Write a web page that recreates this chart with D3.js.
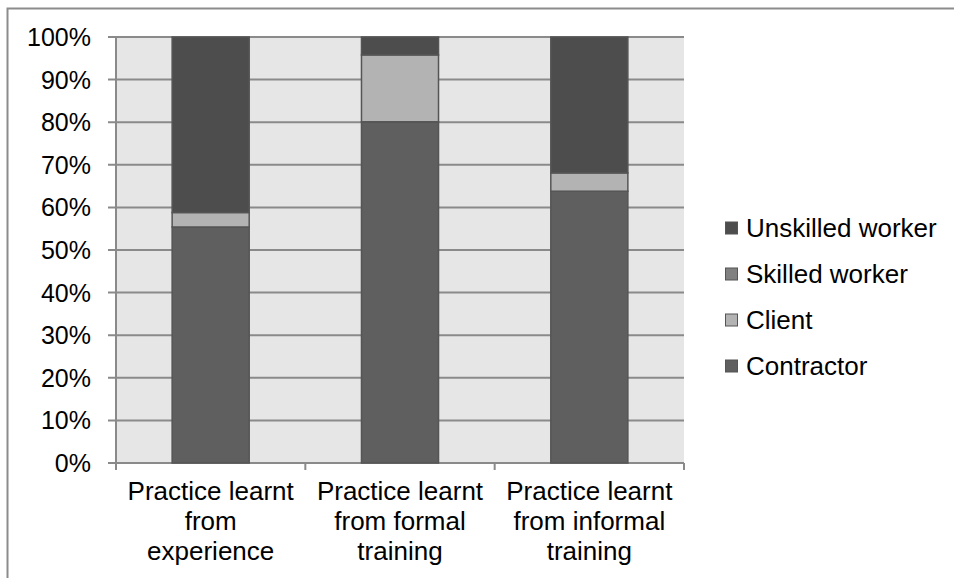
<!DOCTYPE html>
<meta charset="utf-8">
<head>
<style>
body { margin: 0; background: #fff; }
svg { font-family: "Liberation Sans", Arial, sans-serif; }
.grid line { stroke: #8a8a8a; stroke-width: 2; }
.tick-label { font-size: 25px; fill: #000; }
.cat-label { font-size: 26px; fill: #000; }
.legend text { font-size: 26px; fill: #000; }
</style>
</head>
<body>
<svg width="954" height="578"></svg>
<script src="https://d3js.org/d3.v7.min.js"></script>
<script>

// data (percent of respondents)
var categories = ["experience", "formal", "informal"];
var categoryLines = [
  ["Practice learnt", "from", "experience"],
  ["Practice learnt", "from formal", "training"],
  ["Practice learnt", "from informal", "training"]
];
var contractor = [55.4, 80.1, 63.8];
var client = [3.4, 15.7, 4.3];
var skilled = [0, 0, 0];
var unskilled = [41.2, 4.2, 31.9];

var seriesNames = ["Contractor", "Client", "Skilled worker", "Unskilled worker"];
var seriesColors = ["#5f5f5f", "#b3b3b3", "#808080", "#4d4d4d"];
var yTicks = [0, 10, 20, 30, 40, 50, 60, 70, 80, 90, 100];

var rows = categories.map(function(c, i) {
  return { cat: c, "Contractor": contractor[i], "Client": client[i],
           "Skilled worker": skilled[i], "Unskilled worker": unskilled[i] };
});

var svg = d3.select("svg"),
    plotLeft = 116, plotRight = 684, plotTop = 37, plotBottom = 463;

// outer chart frame
svg.append("rect")
    .attr("x", 7.5).attr("y", 8.5)
    .attr("width", 1000).attr("height", 700)
    .attr("fill", "#fff")
    .attr("stroke", "#8c8c8c")
    .attr("stroke-width", 2);

var x = d3.scaleBand()
    .domain(categories)
    .range([plotLeft, plotRight])
    .paddingInner(0.593)
    .paddingOuter(0.2965);

var y = d3.scaleLinear().domain([0, 100]).range([plotBottom, plotTop]);

svg.append("rect")
    .attr("x", plotLeft).attr("y", plotTop)
    .attr("width", plotRight - plotLeft).attr("height", plotBottom - plotTop)
    .attr("fill", "#e6e6e6");

var grid = svg.append("g").attr("class", "grid");
grid.selectAll("line")
  .data(yTicks)
  .enter().append("line")
    .attr("x1", plotLeft - 8).attr("x2", plotRight)
    .attr("y1", function(d) { return y(d); })
    .attr("y2", function(d) { return y(d); });

// y axis line
grid.append("line")
    .attr("x1", plotLeft).attr("x2", plotLeft)
    .attr("y1", plotTop).attr("y2", plotBottom);

// x axis ticks at category boundaries
var step = x.step();
grid.selectAll(".xtick")
  .data(d3.range(categories.length + 1))
  .enter().append("line")
    .attr("class", "xtick")
    .attr("x1", function(i) { return plotLeft + i * step; })
    .attr("x2", function(i) { return plotLeft + i * step; })
    .attr("y1", plotBottom).attr("y2", plotBottom + 7);

svg.selectAll(".tick-label")
  .data(yTicks)
  .enter().append("text")
    .attr("class", "tick-label")
    .attr("x", 91)
    .attr("y", function(d) { return y(d); })
    .attr("dy", "0.36em")
    .attr("text-anchor", "end")
    .text(function(d) { return d + "%"; });

var stack = d3.stack().keys(seriesNames);
var layers = stack(rows);

svg.selectAll(".layer")
  .data(layers)
  .enter().append("g")
    .attr("class", "layer")
    .attr("fill", function(d, i) { return seriesColors[i]; })
  .selectAll("rect")
  .data(function(d) { return d.filter(function(p) { return p[1] - p[0] > 0; }); })
  .enter().append("rect")
    .attr("x", function(d) { return x(d.data.cat); })
    .attr("width", x.bandwidth())
    .attr("y", function(d) { return y(d[1]); })
    .attr("height", function(d) { return y(d[0]) - y(d[1]); })
    .attr("stroke", "#555")
    .attr("stroke-width", 1.5);

// category labels
var cat = svg.selectAll(".cat")
  .data(categories)
  .enter().append("text")
    .attr("class", "cat-label")
    .attr("text-anchor", "middle")
    .attr("x", function(d) { return x(d) + x.bandwidth() / 2; })
    .attr("y", 500);

cat.selectAll("tspan")
  .data(function(d, i) { return categoryLines[i]; })
  .enter().append("tspan")
    .attr("x", function() { return this.parentNode.getAttribute("x"); })
    .attr("dy", function(d, i) { return i ? 30 : 0; })
    .text(function(d) { return d; });

// legend, top of stack first
var legendOrder = seriesNames.slice().reverse();
var legend = svg.append("g").attr("class", "legend");
var item = legend.selectAll("g")
  .data(legendOrder)
  .enter().append("g")
    .attr("transform", function(d, i) { return "translate(725," + (228 + i * 46) + ")"; });

item.append("rect")
    .attr("x", 0.5).attr("y", -6)
    .attr("width", 12).attr("height", 12)
    .attr("fill", function(d) { return seriesColors[seriesNames.indexOf(d)]; })
    .attr("stroke", "#555");

item.append("text")
    .attr("x", 21)
    .attr("dy", "0.36em")
    .text(function(d) { return d; });

</script>
</body>
</html>
